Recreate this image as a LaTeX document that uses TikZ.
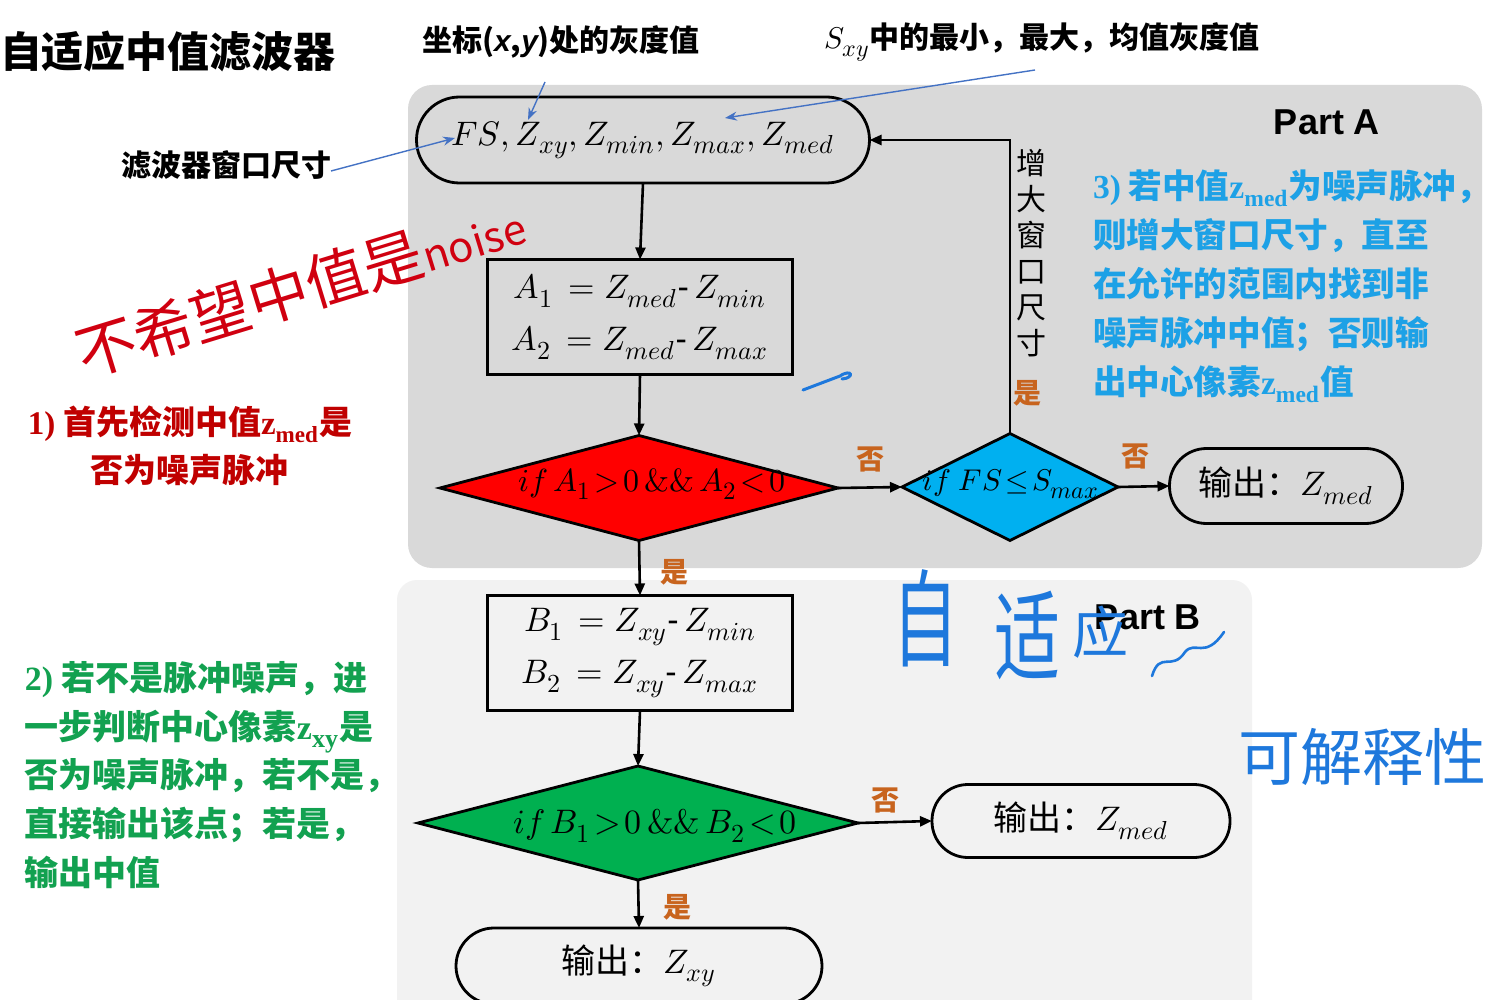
\documentclass[tikz,border=0pt]{standalone}
\usepackage{graphicx}
\usepackage{fontspec}
\usepackage{unicode-math}
\setmainfont{Liberation Sans}
\setmathfont{Latin Modern Math}
\DeclareMathSizes{17}{17}{13}{10}
\DeclareMathSizes{16}{16}{12.5}{10}
\DeclareMathSizes{15}{15}{12}{9}
\newfontfamily\cjk{Noto Sans CJK SC}
\newfontfamily\tnr{Liberation Serif}
\usetikzlibrary{shapes.geometric,arrows.meta}
\definecolor{partAbg}{HTML}{D9D9D9}
\definecolor{partBbg}{HTML}{F2F2F2}
\definecolor{yncol}{HTML}{C8641E}
\definecolor{tblue}{HTML}{1DA1E6}
\definecolor{tred}{HTML}{C00000}
\definecolor{tgreen}{HTML}{12A150}
\definecolor{dblue}{HTML}{00B0F0}
\definecolor{dgreen}{HTML}{00B050}
\definecolor{noteblue}{HTML}{4472C4}
\definecolor{hblue}{HTML}{1E78DC}
\definecolor{hred}{HTML}{D00010}
\begin{document}
\begin{tikzpicture}[x=0.5pt,y=-0.5pt,
  every node/.style={inner sep=0pt, outer sep=0pt},
  flow/.style={line width=1.3pt, -{Triangle[length=6pt,width=5pt]}},
  notearrow/.style={draw=noteblue, line width=0.7pt, -{Stealth[length=6pt,width=4.5pt]}},
  term/.style={draw, line width=1.4pt},
  procbox/.style={draw, line width=1.5pt, minimum width=152.5pt, minimum height=57.5pt},
  dia/.style={diamond, draw, line width=1.4pt},
  mtext/.style={font=\fontsize{17}{26}\selectfont},
  dtext/.style={font=\fontsize{16}{16}\selectfont},
  yn/.style={font=\cjk\bfseries\fontsize{14}{14}\selectfont, text=yncol},
  labtext/.style={font=\cjk\bfseries\fontsize{15}{15}\selectfont},
  handcjk/.style={font=\cjk\fontsize{33}{33}\selectfont},
]
\clip (0,0) rectangle (1489,1000);
\fill[white] (0,0) rectangle (1489,1000);

% background regions
\fill[partAbg, rounded corners=12pt] (408,85) rectangle (1482,568);
\fill[partBbg, rounded corners=10pt] (397,580) rectangle (1252,1030);

% titles
\node[font=\cjk\bfseries\fontsize{21}{21}\selectfont, anchor=west] (title) at (0,52) {自适应中值滤波器};
\node[font=\bfseries\fontsize{18}{18}\selectfont] (pa) at (1327,122) {Part A};
\node[font=\bfseries\fontsize{18}{18}\selectfont] (pb) at (1148,617) {Part B};

% annotation labels
\node[labtext] (lxy) at (561,42) {坐标({\fontspec{Liberation Sans}\itshape x},{\fontspec{Liberation Sans}\itshape y})处的灰度值};
\node[labtext] (lsxy) at (1042,42) {$S_{xy}$中的最小，最大，均值灰度值};
\node[labtext] (lfs) at (226,165) {滤波器窗口尺寸};

% flowchart nodes
\node[term, fill=partAbg, minimum width=226.5pt, minimum height=43pt, rounded corners=21.5pt, mtext] (t1) at (643,140) {$FS, Z_{xy}, Z_{min}, Z_{max}, Z_{med}$};
\node[procbox, fill=partAbg, mtext, align=center] (bA) at (640,317) {$A_1\,=Z_{med}\mbox{-}\,Z_{min}$\\$A_2\,=Z_{med}\mbox{-}\,Z_{max}$};
\node[dia, fill=red, minimum width=199pt, minimum height=52.5pt] (dA) at (639,488) {};
\node[dtext] (dAt) at (652,484) {$if\,A_1\!>\!0\,\&\&\,A_2\!<\!0$};
\node[dia, fill=dblue, minimum width=108pt, minimum height=53.5pt] (dF) at (1010,487) {};
\node[font=\fontsize{15}{15}\selectfont] (dFt) at (1011,484) {$if\ FS\!\leq\! S_{max}$};
\node[term, fill=partAbg, minimum width=116.5pt, minimum height=37.5pt, rounded corners=18.5pt, font=\fontsize{17}{17}\selectfont] (oA) at (1286,486) {{\cjk 输出：}$Z_{med}$};

\node[procbox, fill=partBbg, mtext, align=center] (bB) at (640,653) {$B_1\,=Z_{xy}\mbox{-}\,Z_{min}$\\$B_2\,=Z_{xy}\mbox{-}\,Z_{max}$};
\node[dia, fill=dgreen, minimum width=220pt, minimum height=57pt] (dB) at (638,823) {};
\node[mtext] (dBt) at (655,826) {$if\,B_1\!>\!0\,\&\&\,B_2\!<\!0$};
\node[term, fill=partBbg, minimum width=149pt, minimum height=36.5pt, rounded corners=18pt, font=\fontsize{17}{17}\selectfont] (oB) at (1081,821) {{\cjk 输出：}$Z_{med}$};
\node[term, fill=partBbg, minimum width=183pt, minimum height=38pt, rounded corners=19pt, font=\fontsize{17}{17}\selectfont] (oC) at (639,966) {{\cjk 输出：}$Z_{xy}$};

% connectors
\draw[flow] (t1.south) -- (bA.north);
\draw[flow] (bA.south) -- (dA.north);
\draw[flow] (dA.east) -- (dF.west);
\draw[flow] (dF.north) |- (t1.east);
\draw[flow] (dF.east) -- (oA.west);
\draw[flow] (dA.south) -- (bB.north);
\draw[flow] (bB.south) -- (dB.north);
\draw[flow] (dB.east) -- (oB.west);
\draw[flow] (dB.south) -- (oC.north);

% yes/no labels
\node[yn] (n1) at (870,459) {否};
\node[yn] (n2) at (1135,456) {否};
\node[yn] (y1) at (1027,393) {是};
\node[yn] (y2) at (674,572) {是};
\node[yn] (n3) at (885,800) {否};
\node[yn] (y3) at (677,907) {是};
\node[font=\cjk\fontsize{15}{18}\selectfont, align=center] (grow) at (1031,253) {增\\大\\窗\\口\\尺\\寸};

% annotation arrows
\coordinate (afs) at (455,138);
\coordinate (axy) at (528,120);
\coordinate (asxy) at (725,118);
\draw[notearrow] ([yshift=-3pt]lfs.east) -- (afs);
\draw[notearrow] (545,82) -- (axy);
\draw[notearrow] (1035,70) -- (asxy);

% explanatory texts
\node[font=\cjk\bfseries\fontsize{16.5}{24}\selectfont, text=tred, align=center] (e1) at (190,446) {{\tnr\bfseries 1)} 首先检测中值{\tnr\bfseries z\textsubscript{med}}是\\否为噪声脉冲};
\node[font=\cjk\bfseries\fontsize{17}{24.3}\selectfont, text=tgreen, align=left, anchor=west] (e2) at (25,775) {{\tnr\bfseries 2)} 若不是脉冲噪声，进\\一步判断中心像素{\tnr\bfseries z\textsubscript{xy}}是\\否为噪声脉冲，若不是，\\直接输出该点；若是，\\输出中值};
\node[font=\cjk\bfseries\fontsize{16.8}{24.5}\selectfont, text=tblue, align=left, anchor=west] (e3) at (1093,286) {{\tnr\bfseries 3)} 若中值{\tnr\bfseries z\textsubscript{med}}为噪声脉冲，\\则增大窗口尺寸，直至\\在允许的范围内找到非\\噪声脉冲中值；否则输\\出中心像素{\tnr\bfseries z\textsubscript{med}}值};

% handwritten notes
\node[font=\cjk\fontsize{30}{30}\selectfont, text=hred, rotate=17] (h1) at (300,288) {不希望中值是{\fontsize{21}{21}\selectfont noise}};
\node[handcjk, text=hblue] (h2) at (925,618) {\scalebox{1}[1.6]{自}};
\node[handcjk, text=hblue] (h3) at (1027,635) {\scalebox{1}[1.5]{适}};
\node[font=\cjk\fontsize{28}{28}\selectfont, text=hblue] (h4) at (1100,632) {应};
\node[font=\cjk\fontsize{31}{31}\selectfont, text=hblue] (h5) at (1362,757) {可解释性};
\draw[hblue, line width=1.5pt, line cap=round] (803,390) -- (840,376) .. controls (852,368) and (855,378) .. (842,379);
\draw[hblue, line width=1.3pt, line cap=round] (1152,676) .. controls (1160,650) and (1172,672) .. (1185,652) .. controls (1195,640) and (1205,660) .. (1224,632);
\end{tikzpicture}
\end{document}
